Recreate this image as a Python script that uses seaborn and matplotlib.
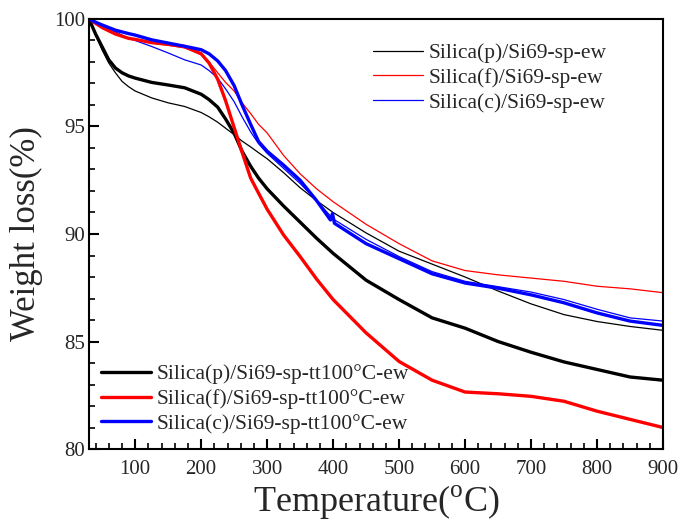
import numpy as np
import pandas as pd
import matplotlib
matplotlib.use("Agg")
import matplotlib.pyplot as plt
import seaborn as sns
from matplotlib.ticker import MultipleLocator

# ---- data ----
temp = [30, 40, 50, 60, 70, 80, 90, 100, 125, 150, 175, 200, 212, 225, 237,
        250, 262, 275, 287, 300, 325, 350, 375, 400, 450, 500, 550, 600, 650,
        700, 750, 800, 850, 900]
# the thick blue run has a small glitch near 400 °C
temp_c = [30, 40, 50, 60, 70, 80, 90, 100, 125, 150, 175, 200, 212, 225, 237,
          250, 262, 275, 287, 300, 325, 350, 375, 396, 399, 402, 450, 500, 550,
          600, 650, 700, 750, 800, 850, 900]

p_ew = [100, 99.25, 98.55, 97.95, 97.5, 97.1, 96.85, 96.65, 96.33, 96.1,
        95.93, 95.65, 95.45, 95.2, 94.92, 94.62, 94.32, 94.05, 93.78, 93.5,
        92.85, 92.15, 91.55, 91.0, 90.05, 89.2, 88.6, 88.0, 87.35, 86.75,
        86.25, 85.93, 85.7, 85.52]
f_ew = [100, 99.8, 99.6, 99.45, 99.3, 99.2, 99.1, 99.05, 98.88, 98.78, 98.65,
        98.35, 98.0, 97.5, 97.05, 96.65, 96.1, 95.6, 95.1, 94.7, 93.65, 92.8,
        92.1, 91.5, 90.45, 89.55, 88.75, 88.3, 88.1, 87.95, 87.8, 87.57,
        87.45, 87.27]
c_ew = [100, 99.85, 99.7, 99.55, 99.4, 99.25, 99.1, 99.0, 98.72, 98.42, 98.1,
        97.86, 97.6, 97.25, 96.75, 96.15, 95.45, 94.75, 94.2, 93.75, 93.05,
        92.35, 91.55, 90.7, 89.75, 88.95, 88.25, 87.8, 87.55, 87.3, 86.95,
        86.5, 86.1, 85.95]
p_tt = [100, 99.3, 98.7, 98.1, 97.72, 97.5, 97.35, 97.25, 97.05, 96.93, 96.8,
        96.5, 96.25, 95.9, 95.35, 94.68, 93.85, 93.15, 92.6, 92.1, 91.3,
        90.55, 89.8, 89.1, 87.85, 86.95, 86.1, 85.62, 85.0, 84.5, 84.05, 83.7,
        83.35, 83.2]
f_tt = [100, 99.8, 99.6, 99.45, 99.3, 99.2, 99.1, 99.05, 98.9, 98.82, 98.72,
        98.38, 97.95, 97.2, 96.2, 94.95, 93.8, 92.6, 91.9, 91.15, 89.95,
        88.95, 87.9, 86.95, 85.4, 84.07, 83.2, 82.65, 82.57, 82.45, 82.22,
        81.76, 81.38, 81.0]
c_tt = [100, 99.85, 99.72, 99.6, 99.48, 99.4, 99.32, 99.25, 99.03, 98.88,
        98.73, 98.57, 98.38, 98.05, 97.6, 96.9, 96.0, 95.1, 94.3, 93.85, 93.2,
        92.5, 91.55, 90.65, 90.95, 90.5, 89.55, 88.85, 88.15, 87.72, 87.48,
        87.17, 86.8, 86.33, 85.95, 85.75]

labels_ew = ["Silica(p)/Si69-sp-ew", "Silica(f)/Si69-sp-ew", "Silica(c)/Si69-sp-ew"]
labels_tt = ["Silica(p)/Si69-sp-tt100°C-ew", "Silica(f)/Si69-sp-tt100°C-ew",
             "Silica(c)/Si69-sp-tt100°C-ew"]
colors = ["black", "red", "blue"]

# ---- styling ----
sns.set_style("ticks")
plt.rcParams["font.family"] = ["Liberation Serif", "DejaVu Serif"]
plt.rcParams["mathtext.fontset"] = "custom"
plt.rcParams["mathtext.rm"] = "Liberation Serif"
plt.rcParams["axes.axisbelow"] = False

fig = plt.figure(figsize=(6.81, 5.2), dpi=100)
ax = fig.add_axes([0.1307, 0.1365, 0.8429, 0.827])

h_ew, h_tt = [], []
for vals, lab, col in zip([p_ew, f_ew, c_ew], labels_ew, colors):
    df = pd.DataFrame({"T": temp, "W": vals})
    sns.lineplot(data=df, x="T", y="W", ax=ax, color=col, linewidth=0.9,
                 sort=False, legend=False)
    h_ew.append(ax.lines[-1])
for vals, tt, lab, col in zip([p_tt, f_tt, c_tt], [temp, temp, temp_c],
                              labels_tt, colors):
    df = pd.DataFrame({"T": tt, "W": vals})
    sns.lineplot(data=df, x="T", y="W", ax=ax, color=col, linewidth=2.4,
                 sort=False, legend=False)
    h_tt.append(ax.lines[-1])

ax.set_xlim(30, 900)
ax.set_ylim(80, 100)
ax.xaxis.set_major_locator(MultipleLocator(100))
ax.xaxis.set_minor_locator(MultipleLocator(20))
ax.yaxis.set_major_locator(MultipleLocator(5))
ax.yaxis.set_minor_locator(MultipleLocator(1))
ax.tick_params(axis="both", which="major", direction="in", length=7,
               width=1.5, color="black", labelsize=15, top=False, right=False)
ax.tick_params(axis="both", which="minor", direction="in", length=4,
               width=1.2, color="black", top=False, right=False)
ax.tick_params(axis="x", which="major", pad=8)
ax.tick_params(axis="y", which="major", pad=3)
ax.set_axisbelow(False)
for s in ax.spines.values():
    s.set_linewidth(1.5)
    s.set_color("black")

ax.set_xlabel(r"Temperature($^{\rm o}$C)", fontsize=26, labelpad=3)
ax.set_ylabel("Weight loss(%)", fontsize=25, labelpad=8)

leg_kw = dict(loc="center left", frameon=False, fontsize=15.5,
              handlelength=2.3, handletextpad=0.3, labelspacing=0.22,
              borderpad=0, borderaxespad=0)
leg1 = ax.legend(handles=h_ew, labels=labels_ew,
                 bbox_to_anchor=(0.495, 0.863), **leg_kw)
ax.add_artist(leg1)
ax.legend(handles=h_tt, labels=labels_tt,
          bbox_to_anchor=(0.021, 0.116), **leg_kw)

fig.savefig("out.png", dpi=100)
